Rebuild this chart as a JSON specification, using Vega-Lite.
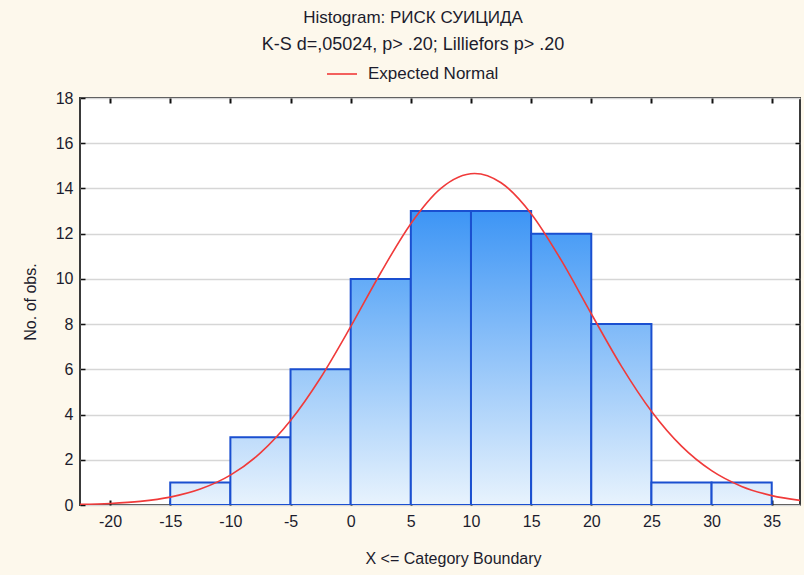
{
  "$schema": "https://vega.github.io/schema/vega-lite/v6.json",
  "width": 720,
  "height": 407,
  "autosize": "none",
  "padding": {"left": 80, "top": 98, "right": 4, "bottom": 70},
  "background": "#fdf8ec",
  "config": {
    "font": "Liberation Sans",
    "view": {"stroke": "#3a3a3a", "strokeWidth": 2, "fill": "white"}
  },
  "title": {
    "text": "Histogram: РИСК СУИЦИДА",
    "subtitle": "K-S d=,05024, p> .20; Lilliefors p> .20",
    "anchor": "middle",
    "frame": "group",
    "dx": -27,
    "fontSize": 17,
    "fontWeight": "normal",
    "color": "#1c1c2c",
    "subtitleFontSize": 18,
    "subtitleColor": "#1c1c2c",
    "subtitlePadding": 9,
    "offset": 3
  },
  "datasets": {
    "bins": [
      {"lo": -15, "hi": -10, "count": 1},
      {"lo": -10, "hi": -5, "count": 3},
      {"lo": -5, "hi": 0, "count": 6},
      {"lo": 0, "hi": 5, "count": 10},
      {"lo": 5, "hi": 10, "count": 13},
      {"lo": 10, "hi": 15, "count": 13},
      {"lo": 15, "hi": 20, "count": 12},
      {"lo": 20, "hi": 25, "count": 8},
      {"lo": 25, "hi": 30, "count": 1},
      {"lo": 30, "hi": 35, "count": 1}
    ],
    "curve": [
      {"x": -22.5, "y": 0.027, "series": "Expected Normal"},
      {"x": -20, "y": 0.069, "series": "Expected Normal"},
      {"x": -17.5, "y": 0.160, "series": "Expected Normal"},
      {"x": -15, "y": 0.348, "series": "Expected Normal"},
      {"x": -12.5, "y": 0.703, "series": "Expected Normal"},
      {"x": -10, "y": 1.319, "series": "Expected Normal"},
      {"x": -7.5, "y": 2.302, "series": "Expected Normal"},
      {"x": -5, "y": 3.733, "series": "Expected Normal"},
      {"x": -2.5, "y": 5.627, "series": "Expected Normal"},
      {"x": 0, "y": 7.886, "series": "Expected Normal"},
      {"x": 2.5, "y": 10.272, "series": "Expected Normal"},
      {"x": 5, "y": 12.441, "series": "Expected Normal"},
      {"x": 7.5, "y": 14.003, "series": "Expected Normal"},
      {"x": 10.3, "y": 14.66, "series": "Expected Normal"},
      {"x": 12.5, "y": 14.251, "series": "Expected Normal"},
      {"x": 15, "y": 12.885, "series": "Expected Normal"},
      {"x": 17.5, "y": 10.828, "series": "Expected Normal"},
      {"x": 20, "y": 8.459, "series": "Expected Normal"},
      {"x": 22.5, "y": 6.143, "series": "Expected Normal"},
      {"x": 25, "y": 4.146, "series": "Expected Normal"},
      {"x": 27.5, "y": 2.602, "series": "Expected Normal"},
      {"x": 30, "y": 1.517, "series": "Expected Normal"},
      {"x": 32.5, "y": 0.823, "series": "Expected Normal"},
      {"x": 35, "y": 0.415, "series": "Expected Normal"},
      {"x": 37.5, "y": 0.194, "series": "Expected Normal"}
    ]
  },
  "resolve": {"axis": {"x": "independent", "y": "independent"}},
  "layer": [
    {
      "data": {"name": "bins"},
      "mark": {"type": "bar", "stroke": "#1a4fd0", "strokeWidth": 2, "clip": true},
      "encoding": {
        "x": {
          "field": "lo", "type": "quantitative",
          "scale": {"domain": [-22.5, 37.35], "nice": false, "zero": false},
          "axis": {
            "values": [-20, -15, -10, -5, 0, 5, 10, 15, 20, 25, 30, 35],
            "labelExpr": "replace(datum.label, '−', '-')",
            "title": "X <= Category Boundary",
            "titleX": 373,
            "titleFontSize": 16, "titleFontWeight": "normal", "titleColor": "#1c1c2c",
            "titlePadding": 21,
            "labelFontSize": 16, "labelColor": "#1c1c2c", "labelPadding": 13,
            "domain": false, "grid": false,
            "tickSize": -5, "tickColor": "#111", "tickWidth": 2
          }
        },
        "x2": {"field": "hi"},
        "y": {
          "field": "count", "type": "quantitative",
          "scale": {"domain": [0, 18], "nice": false},
          "axis": {
            "values": [0, 2, 4, 6, 8, 10, 12, 14, 16, 18],
            "title": "No. of obs.",
            "titleFontSize": 16, "titleFontWeight": "normal", "titleColor": "#1c1c2c",
            "titlePadding": 17,
            "labelFontSize": 16, "labelColor": "#1c1c2c", "labelPadding": 12,
            "domain": false,
            "grid": true, "gridColor": "#d6d6d6", "gridWidth": 1.5,
            "tickSize": -5, "tickColor": "#111", "tickWidth": 1.5
          }
        },
        "y2": {"datum": 0},
        "fill": {
          "condition": [
            {"test": "datum.count >= 13", "value": {"gradient": "linear", "x1": 0, "y1": 0, "x2": 0, "y2": 1, "stops": [{"offset": 0, "color": "#3d95f5"}, {"offset": 1, "color": "#e8f3fd"}]}},
            {"test": "datum.count >= 12", "value": {"gradient": "linear", "x1": 0, "y1": 0, "x2": 0, "y2": 1, "stops": [{"offset": 0, "color": "#4a9df6"}, {"offset": 1, "color": "#e8f3fd"}]}},
            {"test": "datum.count >= 10", "value": {"gradient": "linear", "x1": 0, "y1": 0, "x2": 0, "y2": 1, "stops": [{"offset": 0, "color": "#63abf7"}, {"offset": 1, "color": "#e8f3fd"}]}},
            {"test": "datum.count >= 8", "value": {"gradient": "linear", "x1": 0, "y1": 0, "x2": 0, "y2": 1, "stops": [{"offset": 0, "color": "#7eb9f8"}, {"offset": 1, "color": "#e8f3fd"}]}},
            {"test": "datum.count >= 6", "value": {"gradient": "linear", "x1": 0, "y1": 0, "x2": 0, "y2": 1, "stops": [{"offset": 0, "color": "#99c8f9"}, {"offset": 1, "color": "#e8f3fd"}]}},
            {"test": "datum.count >= 3", "value": {"gradient": "linear", "x1": 0, "y1": 0, "x2": 0, "y2": 1, "stops": [{"offset": 0, "color": "#bfdcfb"}, {"offset": 1, "color": "#e8f3fd"}]}}
          ],
          "value": {"gradient": "linear", "x1": 0, "y1": 0, "x2": 0, "y2": 1, "stops": [{"offset": 0, "color": "#d9eafc"}, {"offset": 1, "color": "#e8f3fd"}]}
        }
      }
    },
    {
      "data": {"name": "curve"},
      "mark": {"type": "line", "interpolate": "monotone", "strokeWidth": 1.6, "clip": true},
      "encoding": {
        "x": {
          "field": "x", "type": "quantitative",
          "axis": {
            "orient": "top", "values": [-20, -15, -10, -5, 0, 5, 10, 15, 20, 25, 30, 35],
            "labels": false, "title": null, "domain": false, "grid": false,
            "tickSize": -5, "tickColor": "#111", "tickWidth": 2
          }
        },
        "y": {
          "field": "y", "type": "quantitative",
          "axis": {
            "orient": "right", "values": [2, 4, 6, 8, 10, 12, 14, 16],
            "labels": false, "title": null, "domain": false, "grid": false,
            "tickSize": -5, "tickColor": "#111", "tickWidth": 1.5
          }
        },
        "color": {
          "field": "series", "type": "nominal",
          "scale": {"domain": ["Expected Normal"], "range": ["#f03a3a"]},
          "legend": {
            "orient": "none", "legendX": 246, "legendY": -40,
            "title": null, "symbolType": "stroke", "symbolSize": 900,
            "symbolStrokeWidth": 1.6,
            "labelFontSize": 17, "labelColor": "#1c1c2c", "labelOffset": 10
          }
        }
      }
    }
  ]
}
